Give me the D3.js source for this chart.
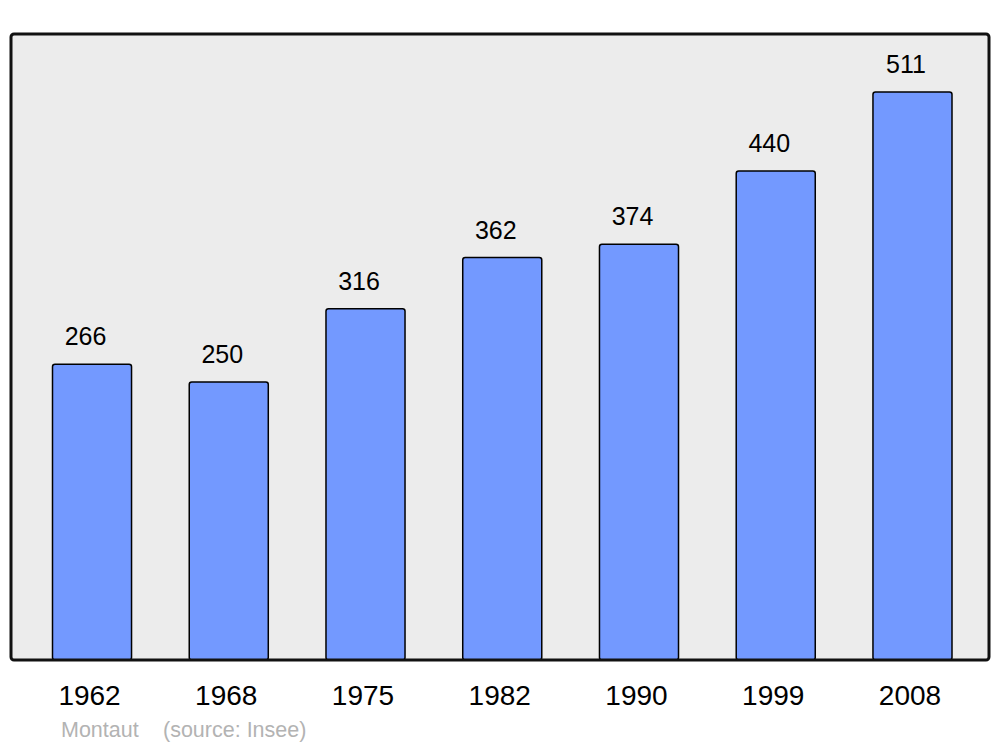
<!DOCTYPE html>
<html><head><meta charset="utf-8">
<script src="https://cdn.jsdelivr.net/npm/d3@7"></script>
<style>html,body{margin:0;padding:0;background:#fff;}svg{display:block;}</style>
</head><body>
<script>
const years = ["1962","1968","1975","1982","1990","1999","2008"];
const population = [266, 250, 316, 362, 374, 440, 511];
const commune = "Montaut";
const sourceNote = "(source: Insee)";

const W = 1000, H = 747;
const svg = d3.select("body").append("svg").attr("width", W).attr("height", H);
const font = "'Liberation Sans', Arial, sans-serif";

const frame = {x0: 11, x1: 989, y0: 34, y1: 660};
const x = d3.scaleBand().domain(years).range([52.5, 952]).paddingInner(0.422).paddingOuter(0);
const y = d3.scaleLinear().domain([0, 562]).range([frame.y1, 35.3]);

svg.append("rect").attr("x", frame.x0).attr("y", frame.y0)
  .attr("width", frame.x1 - frame.x0).attr("height", frame.y1 - frame.y0)
  .attr("rx", 3).attr("fill", "#ececec");

const data = years.map((yr, i) => ({yr, v: population[i]}));

svg.selectAll("rect.bar").data(data).enter().append("rect").attr("class", "bar")
  .attr("x", d => x(d.yr)).attr("y", d => y(d.v))
  .attr("width", x.bandwidth()).attr("height", d => y(0) - y(d.v))
  .attr("rx", 2.5)
  .attr("fill", "#7399ff").attr("stroke", "#000").attr("stroke-width", 1.5);

svg.selectAll("text.val").data(data).enter().append("text").attr("class", "val")
  .attr("x", d => x(d.yr) + x.bandwidth() / 2 - 6.5).attr("y", d => y(d.v) - 19)
  .attr("text-anchor", "middle").attr("font-family", font).attr("font-size", 25)
  .attr("fill", "#000").text(d => d.v);

// frame border on top
svg.append("rect").attr("x", frame.x0).attr("y", frame.y0)
  .attr("width", frame.x1 - frame.x0).attr("height", frame.y1 - frame.y0)
  .attr("rx", 3).attr("fill", "none").attr("stroke", "#111").attr("stroke-width", 3);

const xAxis = d3.axisBottom(x).tickSize(0).tickPadding(0);
const gx = svg.append("g").attr("transform", `translate(-2.5, 705)`).call(xAxis);
gx.select(".domain").remove();
gx.selectAll("text").attr("font-family", font).attr("font-size", 28).attr("fill", "#000").attr("dy", 0);

svg.append("text").attr("x", 61).attr("y", 737).attr("font-family", font).attr("font-size", 21.5)
  .attr("fill", "#b3b3b3").text(commune);
svg.append("text").attr("x", 163).attr("y", 737).attr("font-family", font).attr("font-size", 21.5)
  .attr("fill", "#b3b3b3").text(sourceNote);
</script>
</body></html>
